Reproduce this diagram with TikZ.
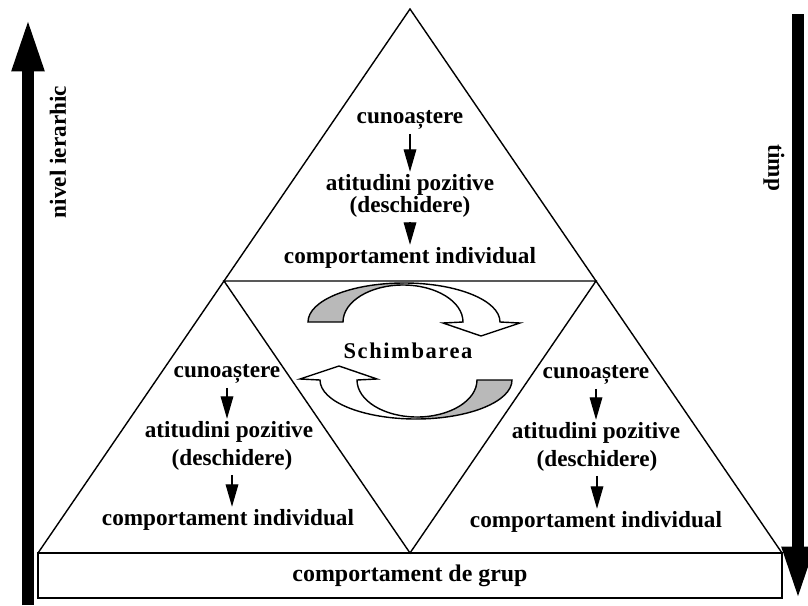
\documentclass[tikz,border=0pt]{standalone}
\usepackage{fontspec}
\setmainfont{Liberation Serif}
\usetikzlibrary{arrows.meta,calc}
\tikzset{
  txt/.style={font=\fontsize{16.5}{19}\selectfont\bfseries, inner sep=1pt},
  down/.style={-{Triangle[length=16pt,width=9pt]}, line width=0.9pt, shorten <=2pt},
  bigarrow/.style={line width=8.5pt, -{Triangle[length=38pt,width=21pt]}},
  halfcycle/.pic={
    \fill[gray!55] (-96,0) arc[start angle=180,end angle=90,x radius=96,y radius=39]
      -- (-1,37) arc[start angle=90,end angle=180,x radius=60,y radius=37] -- cycle;
    \draw (-96,0) arc[start angle=180,end angle=0,x radius=96,y radius=39]
      -- (116,-1) -- (77,-14) -- (39,-1) -- (59,0)
      arc[start angle=0,end angle=180,x radius=60,y radius=37] -- cycle;
  }
}
\begin{document}
\begin{tikzpicture}[x=0.025cm, y=0.025cm, line width=1pt]
\useasboundingbox (0,0) rectangle (808,-605);

\coordinate (top) at (410,-9);
\coordinate (bl) at (38,-553);
\coordinate (br) at (782,-553);
\coordinate (rb) at (782,-598);
\coordinate (ml) at ($(top)!0.5!(bl)$);
\coordinate (mr) at ($(top)!0.5!(br)$);
\coordinate (mb) at (410,-553);

\draw (bl) -- (top) -- (br);
\draw (ml) -- (mr) -- (mb) -- cycle;
\draw (bl) rectangle (rb);

\node[txt, font=\fontsize{17}{20}\selectfont\bfseries] (grup) at ($(bl)!0.5!(rb)$) {comportament de grup};

% top triangle
\node[txt, anchor=base] (c1) at (410,-123) {cunoaștere};
\node[txt, anchor=base] (a1) at (410,-190) {atitudini pozitive};
\node[txt, anchor=base] (d1) at (410,-212) {(deschidere)};
\node[txt, anchor=base] (i1) at (410,-263) {comportament individual};

% left triangle
\node[txt, anchor=base] (c2) at (227,-377) {cunoaștere};
\node[txt, anchor=base] (a2) at (229,-437) {atitudini pozitive};
\node[txt, anchor=base] (d2) at (232,-465) {(deschidere)};
\node[txt, anchor=base] (i2) at (228,-525) {comportament individual};

% right triangle
\node[txt, anchor=base] (c3) at (596,-378) {cunoaștere};
\node[txt, anchor=base] (a3) at (596,-438) {atitudini pozitive};
\node[txt, anchor=base] (d3) at (597,-466) {(deschidere)};
\node[txt, anchor=base] (i3) at (596,-527) {comportament individual};

\draw[down] (c1) -- (a1);
\draw[down] (d1) -- (i1);
\draw[down] (c2) -- (c2 |- a2.north);
\draw[down] (d2) -- (d2 |- i2.north);
\draw[down] (c3) -- (a3);
\draw[down] (d3) -- (d3 |- i3.north);

% change cycle
\pic at (404,-322) {halfcycle};
\pic[rotate=180] at (416,-380) {halfcycle};
\node[font=\fontsize{16}{19}\selectfont\bfseries\addfontfeature{LetterSpace=7}, anchor=base] (sch) at (408,-358) {Schimbarea};

% side arrows
\coordinate (lb) at (28,-605);
\coordinate (lt) at (28,-18);
\coordinate (rt) at (798,-14);
\coordinate (rd) at (798,-600);
\draw[bigarrow] (lb) -- (lt);
\draw[bigarrow] (rt) -- (rd);
\node[txt, rotate=90] (nivel) at (58,-152) {nivel ierarhic};
\node[txt, rotate=-90] (timp) at (774,-168) {timp};
\end{tikzpicture}
\end{document}
